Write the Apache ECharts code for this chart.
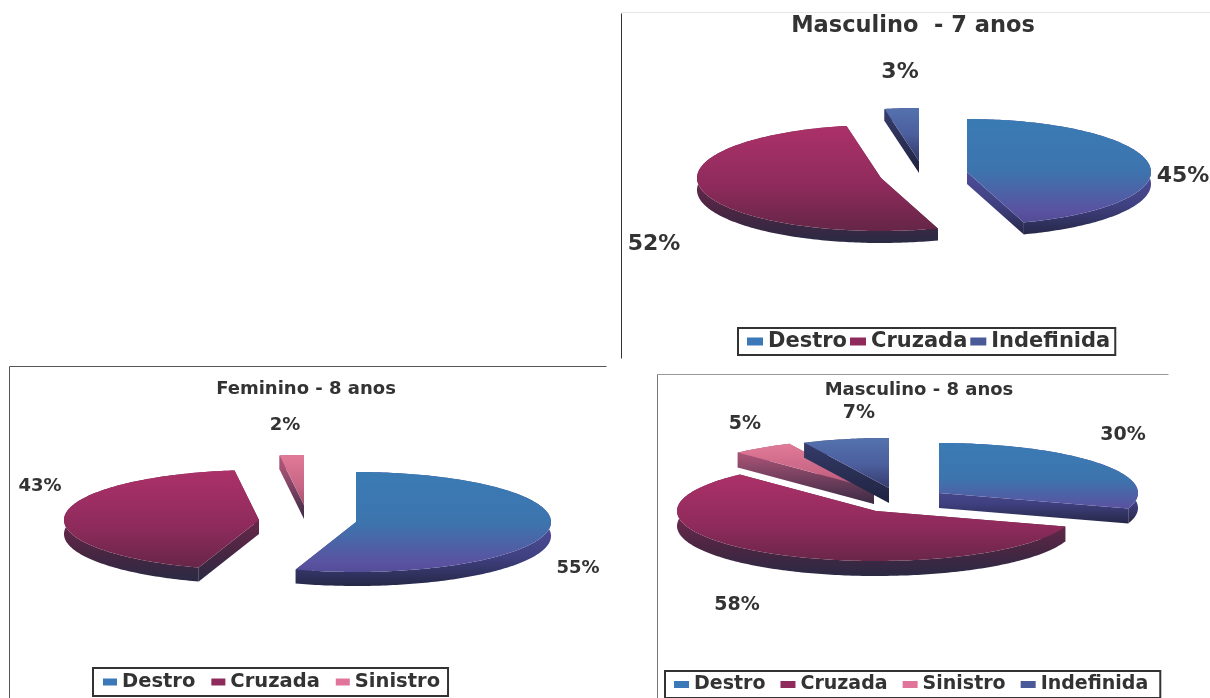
<!DOCTYPE html>
<html>
<head>
<meta charset="utf-8">
<style>html,body{margin:0;padding:0;background:#fff}#chart{width:1210px;height:698px}</style>
<script src="https://cdn.jsdelivr.net/npm/echarts@6/dist/echarts.min.js"></script>
</head>
<body>
<div id="chart"></div>
<script>
// Lateralidade por sexo e idade
const categoriasM7 = ['Destro', 'Cruzada', 'Indefinida'];
const valoresM7 = [45, 52, 3];
const categoriasF8 = ['Destro', 'Cruzada', 'Sinistro'];
const valoresF8 = [55, 43, 2];
const categoriasM8 = ['Destro', 'Cruzada', 'Sinistro', 'Indefinida'];
const valoresM8 = [30, 58, 5, 7];

const FONT = '"DejaVu Sans", "Liberation Sans", sans-serif';
const TEXT = '#333333';

// Fills per category: top face and side wall, as vertical stops over a slice's height
const fills = {
  Destro: {
    legend: '#3a78b8',
    face: [[0, '#3a7bb4'], [0.45, '#3d74ae'], [0.8, '#5a52a0'], [1, '#4a4488']],
    wall: [[0.4, '#5250a0'], [0.75, '#3f4080'], [1, '#262848']]
  },
  Cruzada: {
    legend: '#8e2a5c',
    face: [[0, '#ab3169'], [0.5, '#8f2b5c'], [0.85, '#6a2649'], [1, '#5a2540']],
    wall: [[0.4, '#6e284c'], [0.75, '#472642'], [1, '#2a2a44']]
  },
  Sinistro: {
    legend: '#e0749a',
    face: [[0, '#e07a97'], [0.5, '#c86585'], [1, '#8a3f62']],
    wall: [[0.2, '#a65274'], [1, '#3a2a44']]
  },
  Indefinida: {
    legend: '#4a5a98',
    face: [[0, '#5472ae'], [0.4, '#4c5f9e'], [0.8, '#33386a'], [1, '#2a2d50']],
    wall: [[0.1, '#353a68'], [1, '#1f2340']]
  }
};

// Panel layout: ellipse radii, extrusion depth, exploded apex of each slice, label anchors
const panels = [
  {
    title: 'Masculino  - 7 anos', titleX: 913, titleY: 26, titleSize: 22.5,
    names: categoriasM7, values: valoresM7,
    rx: 184, ry: 53, depth: 12,
    apex: [[967, 172], [881, 178], [919, 161]],
    labels: [[1183, 176], [654, 244], [900, 72]], labelSize: 22,
    legend: { left: 738, top: 328, size: 21, line: 25, w: 16, h: 8, gap: 3, pad: [1, 5, 1, 9] }
  },
  {
    title: 'Feminino - 8 anos', titleX: 306, titleY: 389, titleSize: 18,
    names: categoriasF8, values: valoresF8,
    rx: 195, ry: 50, depth: 14,
    apex: [[356, 522], [259, 520], [304, 505]],
    labels: [[578, 568], [40, 486], [285, 425]], labelSize: 18,
    legend: { left: 93, top: 668, size: 19.5, line: 26, w: 14, h: 7, gap: 16, pad: [1, 8, 1, 10] }
  },
  {
    title: 'Masculino - 8 anos', titleX: 919, titleY: 390, titleSize: 18,
    names: categoriasM8, values: valoresM8,
    rx: 199, ry: 50, depth: 15,
    apex: [[939, 493], [876, 511], [874, 489], [889, 488]],
    labels: [[1123, 435], [737, 605], [745, 424], [859, 413]], labelSize: 19,
    legend: { left: 665, top: 671, size: 19, line: 25, w: 15, h: 7, gap: 15, pad: [1, 12, 1, 9] }
  }
];

// Elliptical point at a clockwise angle measured from 12 o'clock
function rimPoint(p, apex, deg) {
  const a = deg * Math.PI / 180;
  return [apex[0] + p.rx * Math.sin(a), apex[1] - p.ry * Math.cos(a)];
}

function gradient(stops, y0, y1) {
  return {
    type: 'linear', x: 0, y: y0, x2: 0, y2: y1, global: true,
    colorStops: stops.map(s => ({ offset: s[0], color: s[1] }))
  };
}

function sliceRenderer(p, index) {
  return function (params, api) {
    const value = api.value(0);
    const total = p.values.reduce((s, v) => s + v, 0);
    const before = p.values.slice(0, index).reduce((s, v) => s + v, 0);
    const a0 = before / total * 360;
    const a1 = a0 + value / total * 360;
    const apex = p.apex[index];
    const fill = fills[p.names[index]];

    const arc = [];
    const steps = Math.max(4, Math.ceil(a1 - a0));
    for (let i = 0; i <= steps; i++) arc.push(rimPoint(p, apex, a0 + (a1 - a0) * i / steps));

    const ys = arc.map(pt => pt[1]).concat(apex[1]);
    const y0 = Math.min.apply(null, ys);
    const y1 = Math.max.apply(null, ys) + p.depth;

    const drop = pt => [pt[0], pt[1] + p.depth];
    const wallFill = gradient(fill.wall, y0, y1);
    const wall = points => ({ type: 'polygon', shape: { points }, style: { fill: wallFill } });

    // Radial edges first, then the rim, then the top face over them
    const children = [
      wall([apex, arc[0], drop(arc[0]), drop(apex)]),
      wall([apex, arc[steps], drop(arc[steps]), drop(apex)]),
      wall(arc.concat(arc.slice().reverse().map(drop))),
      {
        type: 'polygon',
        shape: { points: [apex].concat(arc) },
        style: { fill: gradient(fill.face, y0, y1) }
      }
    ];
    const anchor = p.labels[index];
    children.push({
      type: 'text',
      style: {
        text: value + '%', x: anchor[0], y: anchor[1],
        align: 'center', verticalAlign: 'middle',
        font: 'bold ' + p.labelSize + 'px ' + FONT, fill: TEXT
      }
    });
    return { type: 'group', children };
  };
}

const series = [];
panels.forEach(p => {
  p.names.forEach((name, i) => {
    series.push({
      type: 'custom',
      name,
      coordinateSystem: 'none',
      silent: true,
      itemStyle: { color: fills[name].legend },
      data: [[p.values[i]]],
      renderItem: sliceRenderer(p, i)
    });
  });
});

// Thin frame lines along the top and left of each panel
const frameLines = [
  { x1: 621, y1: 12, x2: 1210, y2: 12, color: '#e6e6e6', w: 1 },
  { x1: 621, y1: 13, x2: 621, y2: 358, color: '#333333', w: 1 },
  { x1: 9, y1: 366, x2: 606, y2: 366, color: '#555555', w: 1 },
  { x1: 9, y1: 366, x2: 9, y2: 698, color: '#555555', w: 1 },
  { x1: 657, y1: 374, x2: 1168, y2: 374, color: '#999999', w: 1 },
  { x1: 657, y1: 374, x2: 657, y2: 698, color: '#777777', w: 1 }
];

const option = {
  backgroundColor: '#ffffff',
  animation: false,
  title: panels.map(p => ({
    text: p.title,
    left: p.titleX,
    top: p.titleY,
    textAlign: 'center',
    textVerticalAlign: 'middle',
    padding: 0,
    textStyle: { fontFamily: FONT, fontWeight: 'bold', fontSize: p.titleSize, color: TEXT }
  })),
  legend: panels.map(p => ({
    data: p.names,
    orient: 'horizontal',
    left: p.legend.left,
    top: p.legend.top,
    icon: 'rect',
    itemWidth: p.legend.w,
    itemHeight: p.legend.h,
    itemGap: p.legend.gap,
    padding: p.legend.pad,
    borderColor: '#333333',
    borderWidth: 2,
    selectedMode: false,
    textStyle: {
      fontFamily: FONT, fontWeight: 'bold', fontSize: p.legend.size,
      color: TEXT, lineHeight: p.legend.line
    }
  })),
  graphic: frameLines.map(l => ({
    type: 'line',
    silent: true,
    shape: { x1: l.x1 + 0.5, y1: l.y1 + 0.5, x2: l.x2 + 0.5, y2: l.y2 + 0.5 },
    style: { stroke: l.color, lineWidth: l.w }
  })),
  series
};

echarts.init(document.getElementById('chart'), null, { renderer: 'canvas' }).setOption(option);
</script>
</body>
</html>
